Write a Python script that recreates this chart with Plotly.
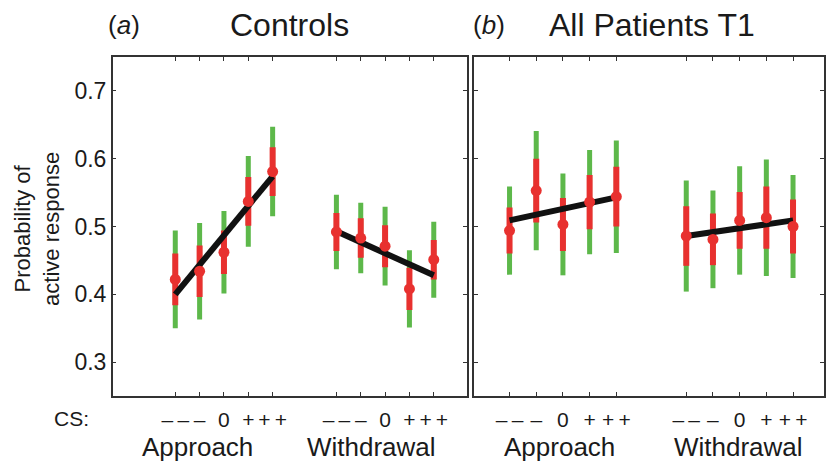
import plotly.graph_objects as go

# ---------------- data ----------------
cs_labels = ["–\u2009–", "–", "0", "+", "+\u2009+"]
group_names = ["Approach", "Withdrawal"]
panel_titles = ["Controls", "All Patients T1"]
panel_tags = ["(<i>a</i>)", "(<i>b</i>)"]

# Controls
ctrl_app_mean = [0.422, 0.434, 0.462, 0.537, 0.581]
ctrl_app_red = [0.038, 0.038, 0.032, 0.036, 0.036]
ctrl_app_green = [0.072, 0.071, 0.061, 0.067, 0.066]
ctrl_app_fit = [0.400, 0.574]

ctrl_wd_mean = [0.492, 0.483, 0.471, 0.408, 0.451]
ctrl_wd_red = [0.028, 0.029, 0.031, 0.031, 0.029]
ctrl_wd_green = [0.055, 0.052, 0.058, 0.057, 0.056]
ctrl_wd_fit = [0.493, 0.428]

# All patients T1
pat_app_mean = [0.494, 0.553, 0.503, 0.536, 0.544]
pat_app_red = [0.034, 0.047, 0.039, 0.040, 0.044]
pat_app_green = [0.065, 0.088, 0.075, 0.077, 0.083]
pat_app_fit = [0.509, 0.543]

pat_wd_mean = [0.486, 0.481, 0.509, 0.513, 0.500]
pat_wd_red = [0.044, 0.038, 0.042, 0.046, 0.040]
pat_wd_green = [0.082, 0.072, 0.080, 0.086, 0.076]
pat_wd_fit = [0.486, 0.509]

y_ticks = [0.3, 0.4, 0.5, 0.6, 0.7]

# ---------------- layout constants ----------------
W, H = 826, 465
GAP = 2.62
xs_app = [1, 2, 3, 4, 5]
xs_wd = [5 + GAP + i for i in range(5)]
GREEN = "#5DB84A"
RED = "#E8312F"
BLACK = "#111111"
FONT = "Liberation Sans, Arial, sans-serif"

fig = go.Figure()

panels = [
    ("x", "y", [(ctrl_app_mean, ctrl_app_red, ctrl_app_green, ctrl_app_fit, xs_app),
                (ctrl_wd_mean, ctrl_wd_red, ctrl_wd_green, ctrl_wd_fit, xs_wd)]),
    ("x2", "y2", [(pat_app_mean, pat_app_red, pat_app_green, pat_app_fit, xs_app),
                  (pat_wd_mean, pat_wd_red, pat_wd_green, pat_wd_fit, xs_wd)]),
]

for xa, ya, groups in panels:
    for mean, red, green, fit, xs in groups:
        fig.add_trace(go.Scatter(
            x=xs, y=mean, xaxis=xa, yaxis=ya, mode="markers",
            marker=dict(size=1, opacity=0),
            error_y=dict(type="data", array=green, visible=True,
                         color=GREEN, thickness=5, width=0),
            showlegend=False, hoverinfo="skip"))
        fig.add_trace(go.Scatter(
            x=xs, y=mean, xaxis=xa, yaxis=ya, mode="markers",
            marker=dict(size=1, opacity=0),
            error_y=dict(type="data", array=red, visible=True,
                         color=RED, thickness=6, width=0),
            showlegend=False, hoverinfo="skip"))
        fig.add_trace(go.Scatter(
            x=[xs[0], xs[-1]], y=fit, xaxis=xa, yaxis=ya, mode="lines",
            line=dict(color=BLACK, width=6), showlegend=False))
        fig.add_trace(go.Scatter(
            x=xs, y=mean, xaxis=xa, yaxis=ya, mode="markers",
            marker=dict(size=11, color=RED), showlegend=False))

tickvals = xs_app + xs_wd
ticktext = cs_labels + cs_labels

axis_common = dict(showline=True, linecolor="#333333", linewidth=1.5,
                   mirror="ticks", ticks="inside", ticklen=4, tickwidth=1,
                   tickcolor="#333333", showgrid=False, zeroline=False)

fig.update_layout(
    width=W, height=H,
    margin=dict(l=0, r=0, t=57, b=69),
    paper_bgcolor="white", plot_bgcolor="white",
    font=dict(family=FONT, color="#1a1a1a"),
    xaxis=dict(domain=[113 / W, 468 / W], range=[-1.57, 12.98],
               tickvals=tickvals, ticktext=ticktext,
               tickfont=dict(size=21), ticklabelstandoff=4, **axis_common),
    xaxis2=dict(domain=[475 / W, 1.0], range=[-0.337, 12.78],
                tickvals=tickvals, ticktext=ticktext,
                tickfont=dict(size=21), ticklabelstandoff=4, **axis_common),
    yaxis=dict(domain=[0, 1], range=[0.25, 0.75], tickvals=y_ticks,
               ticktext=[f"{v:.1f}" for v in y_ticks], tickfont=dict(size=23),
               anchor="x", **axis_common),
    yaxis2=dict(domain=[0, 1], range=[0.25, 0.75], tickvals=y_ticks,
                showticklabels=False, anchor="x2", **axis_common),
)

def px_x(p):
    return p / W

def px_y(p):
    return 1 - (p - 57) / (H - 57 - 69)

ann = []
# panel tags and titles
ann.append(dict(text=panel_tags[0], x=px_x(124), y=px_y(25)))
ann.append(dict(text=panel_titles[0], x=px_x(290), y=px_y(25), font=dict(size=32)))
ann.append(dict(text=panel_tags[1], x=px_x(490), y=px_y(25)))
ann.append(dict(text=panel_titles[1], x=px_x(654), y=px_y(25), font=dict(size=32)))
# CS label
ann.append(dict(text="CS:", x=px_x(72), y=px_y(418), font=dict(size=21)))
# group labels
for cx in (198, 561):
    ann.append(dict(text=group_names[0], x=px_x(cx), y=px_y(447), font=dict(size=26)))
for cx in (372, 740):
    ann.append(dict(text=group_names[1], x=px_x(cx), y=px_y(447), font=dict(size=26)))
# y label
ann.append(dict(text="Probability of<br>active response", x=px_x(37), y=px_y(229),
                textangle=-90, font=dict(size=22)))

for a in ann:
    a.setdefault("font", dict(size=26))
    a["font"].setdefault("family", FONT)
    a["font"].setdefault("color", "#1a1a1a")
    a.update(xref="paper", yref="paper", showarrow=False,
             xanchor="center", yanchor="middle")
fig.update_layout(annotations=ann)

fig.write_html("out.html")
